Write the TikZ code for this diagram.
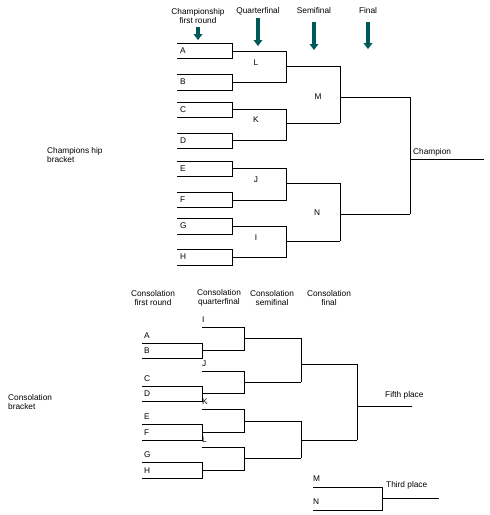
\documentclass[tikz,border=0pt]{standalone}
\usepackage{fontspec}
\setmainfont{Liberation Sans}
\begin{document}
\begin{tikzpicture}[x=1pt,y=-1pt,
  lbl/.style={font=\fontsize{8.3}{8.8}\selectfont,inner sep=0pt},
  hdr/.style={lbl,align=center},
  ln/.style={line width=0.8pt},
  arr/.style={draw=none,fill=teal!70!black}]
\useasboundingbox (0,0) rectangle (490,515);
\newcommand{\myDownArr}[3]{% x, ytop, ybot
  \fill[arr] ({#1-1.8},#2) rectangle ({#1+1.8},{#3-6});
  \fill[arr] ({#1-4.5},{#3-6}) -- ({#1+4.5},{#3-6}) -- (#1,#3) -- cycle;}
% headers championship
\node[hdr] (h1) at (198,16) {Championship\\first round};
\node[hdr] (h2) at (258,11) {Quarterfinal};
\node[hdr] (h3) at (314,11) {Semifinal};
\node[hdr] (h4) at (368,11) {Final};
\myDownArr{198}{27}{40}
\myDownArr{258}{18}{46}
\myDownArr{314}{22}{50}
\myDownArr{368}{22}{49}
\node[hdr,align=left,anchor=west] (cb) at (47,155) {Champions hip\\bracket};
\node[hdr,align=left,anchor=west] (sb) at (8,402) {Consolation\\bracket};
% first round boxes
\foreach \n/\t/\b in {A/43/58,B/74/90,C/102/117,D/133/148,E/161/176,F/192/207,G/218/234,H/249/265}{
  \draw[ln] (177,\t) -- (232,\t) -- (232,\b) -- (177,\b);
  \node[lbl,anchor=west] (t\n) at (180,{(\t+\b)/2}) {\n};
}
% quarterfinal
\foreach \n/\a/\b/\m in {L/51/82/66,K/109/140/123,J/168/200/183,I/226/257/241}{
  \draw[ln] (232,\a) -- (286,\a) -- (286,\b) -- (232,\b);
  \draw[ln] (286,\m) -- (340,\m);
  \node[lbl] (q\n) at (256,{\m-3}) {\n};
}
\draw[ln] (340,66) -- (340,123); \draw[ln] (340,97) -- (410,97);
\node[lbl] (sM) at (318,97) {M};
\draw[ln] (340,183) -- (340,241); \draw[ln] (340,214) -- (410,214);
\node[lbl] (sN) at (317,213) {N};
\draw[ln] (410,97) -- (410,214); \draw[ln] (410,159) -- (484,159);
\node[lbl,anchor=west] (champ) at (413,152) {Champion};
% consolation headers
\node[hdr] (c1) at (153,298) {Consolation\\first round};
\node[hdr] (c2) at (219,298) {Consolation\\quarterfinal};
\node[hdr] (c3) at (272,298) {Consolation\\semifinal};
\node[hdr] (c4) at (329,298) {Consolation\\final};
% consolation first round pairs
\foreach \p/\q/\t/\b in {A/B/343/358,C/D/386/401,E/F/424/440,G/H/462/478}{
  \draw[ln] (142,\t) -- (202,\t) -- (202,\b) -- (142,\b);
  \node[lbl,anchor=west] (u\p) at (144,{\t-7}) {\p};
  \node[lbl,anchor=west] (u\q) at (144,{\b-7}) {\q};
}
\foreach \n/\y/\m/\c in {I/327/350/338,J/371/393/382,K/409/432/421,L/447/470/458}{
  \draw[ln] (202,\y) -- (244,\y) -- (244,\m) -- (202,\m);
  \draw[ln] (244,\c) -- (301,\c);
  \node[lbl,anchor=west] (v\n) at (202,{\y-7}) {\n};
}
\draw[ln] (301,338) -- (301,382); \draw[ln] (301,364) -- (357,364);
\draw[ln] (301,421) -- (301,458); \draw[ln] (301,440) -- (357,440);
\draw[ln] (357,364) -- (357,440); \draw[ln] (357,406) -- (412,406);
\node[lbl,anchor=west] (fifth) at (385,395) {Fifth place};
\draw[ln] (313,487) -- (382,487) -- (382,510) -- (313,510);
\draw[ln] (382,498) -- (439,498);
\node[lbl,anchor=west] (wM) at (313,479) {M};
\node[lbl,anchor=west] (wN) at (313,502) {N};
\node[lbl,anchor=west] (third) at (386,485) {Third place};
\end{tikzpicture}
\end{document}
